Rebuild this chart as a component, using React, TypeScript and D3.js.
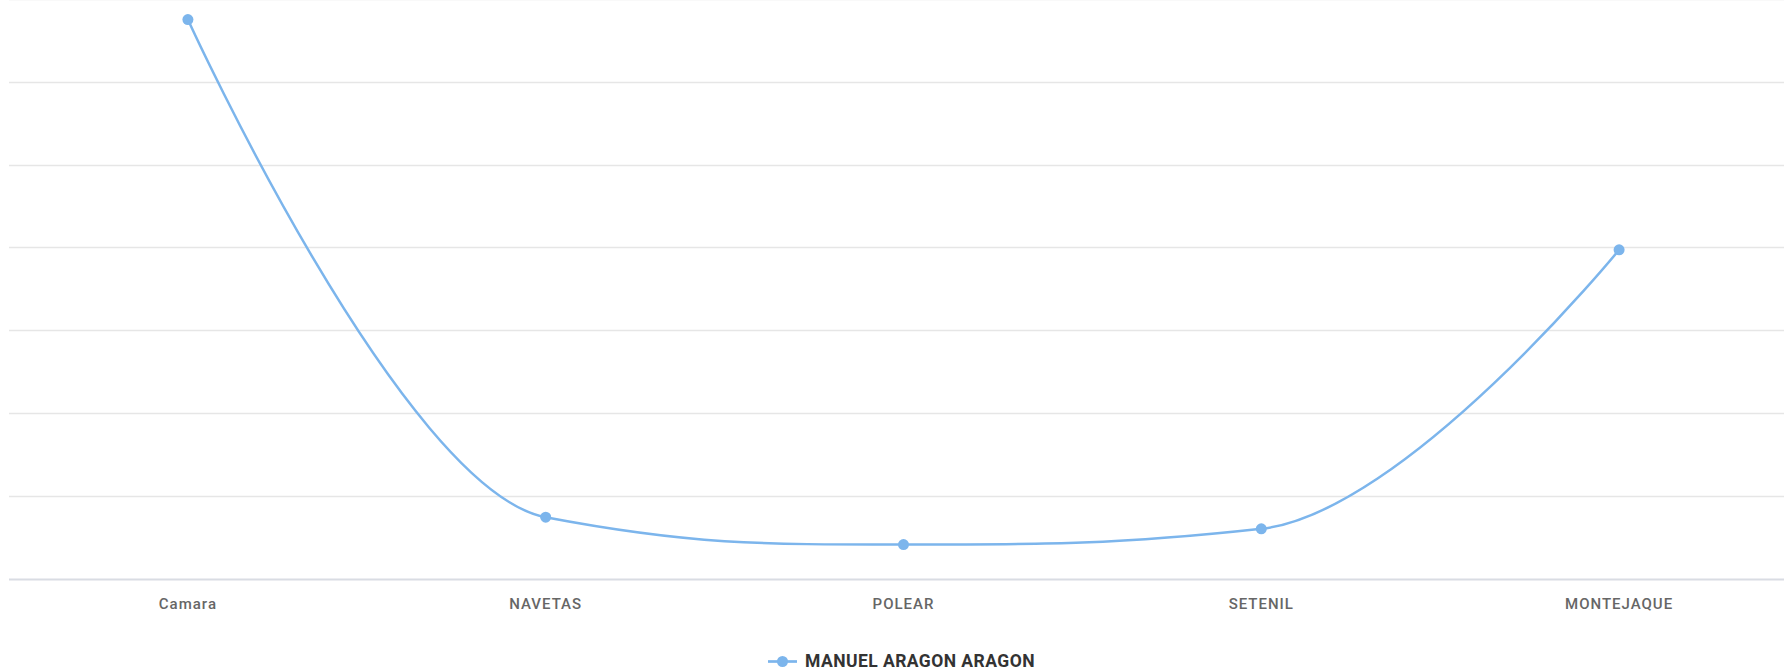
import React from "react";
import * as d3 from "d3";

const categories: string[] = ["Camara", "NAVETAS", "POLEAR", "SETENIL", "MONTEJAQUE"];
const seriesName = "MANUEL ARAGON ARAGON";
const seriesValues: number[] = [67.5, 7.4, 4.1, 6.0, 39.7];
const yTicks: number[] = [0, 10, 20, 30, 40, 50, 60, 70];

const W = 1784;
const H = 671;

// Spline with smoothing 1.5 (the classic "spline" series algorithm)
function splinePath(pts: [number, number][]): string {
  const n = pts.length;
  const smoothing = 1.5;
  const denom = smoothing + 1;
  const left: ([number, number] | null)[] = new Array(n).fill(null);
  const right: ([number, number] | null)[] = new Array(n).fill(null);
  for (let i = 1; i < n - 1; i++) {
    const [lastX, lastY] = pts[i - 1];
    const [plotX, plotY] = pts[i];
    const [nextX, nextY] = pts[i + 1];
    const lcx = (smoothing * plotX + lastX) / denom;
    let lcy = (smoothing * plotY + lastY) / denom;
    const rcx = (smoothing * plotX + nextX) / denom;
    let rcy = (smoothing * plotY + nextY) / denom;
    let corr = 0;
    if (rcx !== lcx) corr = ((rcy - lcy) * (rcx - plotX)) / (rcx - lcx) + plotY - rcy;
    lcy += corr;
    rcy += corr;
    if (lcy > lastY && lcy > plotY) {
      lcy = Math.max(lastY, plotY);
      rcy = 2 * plotY - lcy;
    } else if (lcy < lastY && lcy < plotY) {
      lcy = Math.min(lastY, plotY);
      rcy = 2 * plotY - lcy;
    }
    if (rcy > nextY && rcy > plotY) {
      rcy = Math.max(nextY, plotY);
      lcy = 2 * plotY - rcy;
    } else if (rcy < nextY && rcy < plotY) {
      rcy = Math.min(nextY, plotY);
      lcy = 2 * plotY - rcy;
    }
    left[i] = [lcx, lcy];
    right[i] = [rcx, rcy];
  }
  const p = d3.path();
  p.moveTo(pts[0][0], pts[0][1]);
  for (let i = 1; i < n; i++) {
    const c1 = right[i - 1] || pts[i - 1];
    const c2 = left[i] || pts[i];
    p.bezierCurveTo(c1[0], c1[1], c2[0], c2[1], pts[i][0], pts[i][1]);
  }
  return p.toString();
}

export default function App() {
  const x = d3.scaleBand<string>().domain(categories).range([9, 1798]);
  const y = d3.scaleLinear().domain([0, 70]).range([578.5, -1.1]);
  const cx = (c: string) => (x(c) as number) + x.bandwidth() / 2;

  const pts = categories.map((c, i) => [cx(c), y(seriesValues[i])] as [number, number]);

  const color = "#7cb5ec";

  return (
    <div style={{ position: "fixed", left: 0, top: 0, background: "#fff" }}>
      <svg width={W} height={H} style={{ display: "block" }}>
        <rect x={0} y={0} width={W} height={H} fill="#ffffff" />
        {yTicks.map((t) => (
          <line
            key={t}
            x1={9}
            x2={W}
            y1={Math.round(y(t)) + 0.5}
            y2={Math.round(y(t)) + 0.5}
            stroke={t === 0 ? "#d9dce3" : "#e6e6e6"}
            strokeWidth={t === 0 ? 2 : 1.5}
          />
        ))}
        <path d={splinePath(pts)} fill="none" stroke={color} strokeWidth={2.5} strokeLinejoin="round" strokeLinecap="round" />
        {pts.map((p, i) => (
          <circle key={i} cx={p[0]} cy={p[1]} r={5.5} fill={color} />
        ))}
        {categories.map((c) => (
          <text
            key={c}
            x={cx(c)}
            y={609}
            textAnchor="middle"
            fontFamily="Roboto, 'Noto Sans', sans-serif"
            fontSize={15}
            fontWeight={500}
            letterSpacing={1}
            fill="#666666"
          >
            {c}
          </text>
        ))}
        <g>
          <line x1={768} x2={797} y1={661.5} y2={661.5} stroke={color} strokeWidth={2.7} />
          <circle cx={782.5} cy={661.5} r={5.5} fill={color} />
          <text
            x={805}
            y={666.5}
            fontFamily="Roboto, 'Noto Sans', sans-serif"
            fontSize={17.5}
            fontWeight={700}
            letterSpacing={0.45}
            fill="#333333"
          >
            {seriesName}
          </text>
        </g>
      </svg>
    </div>
  );
}
